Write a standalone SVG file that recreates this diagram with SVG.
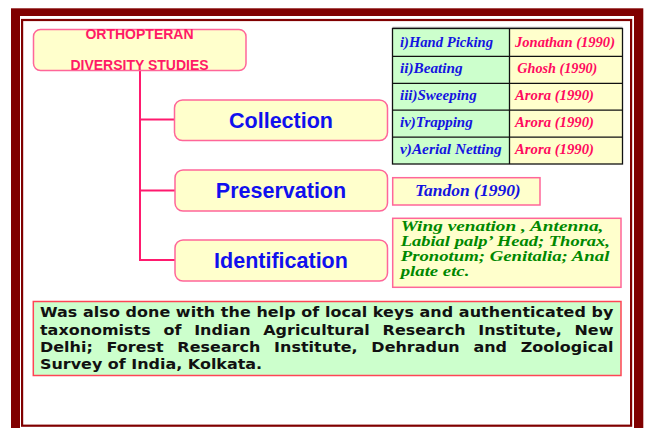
<svg xmlns="http://www.w3.org/2000/svg" width="645" height="428" viewBox="0 0 645 428">
<style>
.node{fill:#FFFFCC;stroke:#FF6699;stroke-width:1.5}
.head{font-family:"Liberation Sans",Arial,sans-serif;font-weight:bold;font-size:14px;fill:#FF1A66;text-anchor:middle}
.child{font-family:"Liberation Sans",Arial,sans-serif;font-weight:bold;font-size:21.5px;fill:#1010EE;text-anchor:middle}
.cal{font-family:"Liberation Serif","Times New Roman",serif;font-weight:bold;font-style:italic}
.blue{fill:#1414E0}
.pink{fill:#FF0A5E}
.green{fill:#008800}
.note{font-family:"DejaVu Sans",Verdana,sans-serif;font-weight:bold;font-size:14px;fill:#111}
.conn{stroke:#FF1A6E;stroke-width:2;fill:none}
.grid{stroke:#111;stroke-width:1.3;fill:none}
</style>
<rect x="0" y="0" width="645" height="428" fill="#fff"/>
<g id="frame">
<rect x="11" y="8.3" width="632.3" height="430" fill="#800000"/>
<rect x="20" y="16" width="614" height="420" fill="#fff"/>
<rect x="22.1" y="20" width="609" height="405.7" fill="none" stroke="#800000" stroke-width="2.2"/>
</g>
<g id="connectors">
<path class="conn" d="M140 70.5 V260 M139 119.5 H175 M139 190.5 H175 M139 260 H175"/>
</g>
<g id="root">
<rect class="node" x="33.5" y="29.5" width="212.5" height="41" rx="7"/>
<text class="head" x="139.5" y="39">ORTHOPTERAN</text>
<text class="head" x="139.5" y="70">DIVERSITY STUDIES</text>
</g>
<g id="collection">
<rect class="node" x="174.5" y="100" width="213" height="40.5" rx="8"/>
<text class="child" x="281" y="127.7">Collection</text>
</g>
<g id="preservation">
<rect class="node" x="175" y="170" width="212.5" height="41" rx="8"/>
<text class="child" x="281" y="198.3">Preservation</text>
</g>
<g id="identification">
<rect class="node" x="175" y="240" width="212.5" height="41" rx="8"/>
<text class="child" x="281" y="268.3">Identification</text>
</g>
<g id="methods-table">
<rect x="392.5" y="28.5" width="117" height="135.5" fill="#CCFFCC"/>
<rect x="509.5" y="28.5" width="113" height="135.5" fill="#FFFFCC"/>
<path d="M392.5 27.3 H622.5" stroke="#999" stroke-width="1"/>
<rect class="grid" x="392.5" y="28.5" width="230" height="135.5" stroke-width="2"/>
<path class="grid" d="M509.5 28.5 V164 M392.5 56.3 H622.5 M392.5 83.3 H622.5 M392.5 110.2 H622.5 M392.5 137.2 H622.5"/>
<g class="cal" font-size="14.5">
<text class="blue" x="400" y="46.5" textLength="93" lengthAdjust="spacingAndGlyphs">i)Hand Picking</text>
<text class="blue" x="400" y="73.3" textLength="62.7" lengthAdjust="spacingAndGlyphs">ii)Beating</text>
<text class="blue" x="400" y="100.2" textLength="76.7" lengthAdjust="spacingAndGlyphs">iii)Sweeping</text>
<text class="blue" x="400" y="127" textLength="72.7" lengthAdjust="spacingAndGlyphs">iv)Trapping</text>
<text class="blue" x="400" y="154" textLength="101.7" lengthAdjust="spacingAndGlyphs">v)Aerial Netting</text>
<text class="pink" x="515" y="46.5" textLength="100" lengthAdjust="spacingAndGlyphs">Jonathan (1990)</text>
<text class="pink" x="517.3" y="73.3" textLength="80" lengthAdjust="spacingAndGlyphs">Ghosh (1990)</text>
<text class="pink" x="515" y="100.2" textLength="79" lengthAdjust="spacingAndGlyphs">Arora (1990)</text>
<text class="pink" x="515" y="127" textLength="79" lengthAdjust="spacingAndGlyphs">Arora (1990)</text>
<text class="pink" x="515" y="154" textLength="79" lengthAdjust="spacingAndGlyphs">Arora (1990)</text>
</g>
</g>
<g id="preservation-ref">
<rect class="node" x="392.7" y="177.7" width="147.3" height="27.3"/>
<text class="cal blue" font-size="16" x="415" y="195.7" textLength="105.7" lengthAdjust="spacingAndGlyphs">Tandon (1990)</text>
</g>
<g id="identification-ref">
<rect class="node" x="392.7" y="218.3" width="228.3" height="69"/>
<g class="cal green" font-size="15">
<text x="400.7" y="231" textLength="202.7" lengthAdjust="spacingAndGlyphs">Wing venation , Antenna,</text>
<text x="400.7" y="246" textLength="209.3" lengthAdjust="spacingAndGlyphs">Labial palp’ Head; Thorax,</text>
<text x="400.7" y="261" textLength="208.7" lengthAdjust="spacingAndGlyphs">Pronotum; Genitalia; Anal</text>
<text x="400.7" y="276" textLength="68.7" lengthAdjust="spacingAndGlyphs">plate etc.</text>
</g>
</g>
<g id="note">
<rect x="33.3" y="301.5" width="587.7" height="74" fill="#CCFFCC" stroke="#FF4455" stroke-width="1.5"/>
<g class="note" transform="translate(40 0) scale(1.14 1)">
<text x="0" y="317.5" textLength="503" lengthAdjust="spacing">Was also done with the help of local keys and authenticated by</text>
<text x="0" y="335" word-spacing="6.3" textLength="503" lengthAdjust="spacing">taxonomists of Indian Agricultural Research Institute, New</text>
<text x="0" y="352.5" word-spacing="7.1" textLength="503" lengthAdjust="spacing">Delhi; Forest Research Institute, Dehradun and Zoological</text>
<text x="0" y="369">Survey of India, Kolkata.</text>
</g>
</g>
</svg>
